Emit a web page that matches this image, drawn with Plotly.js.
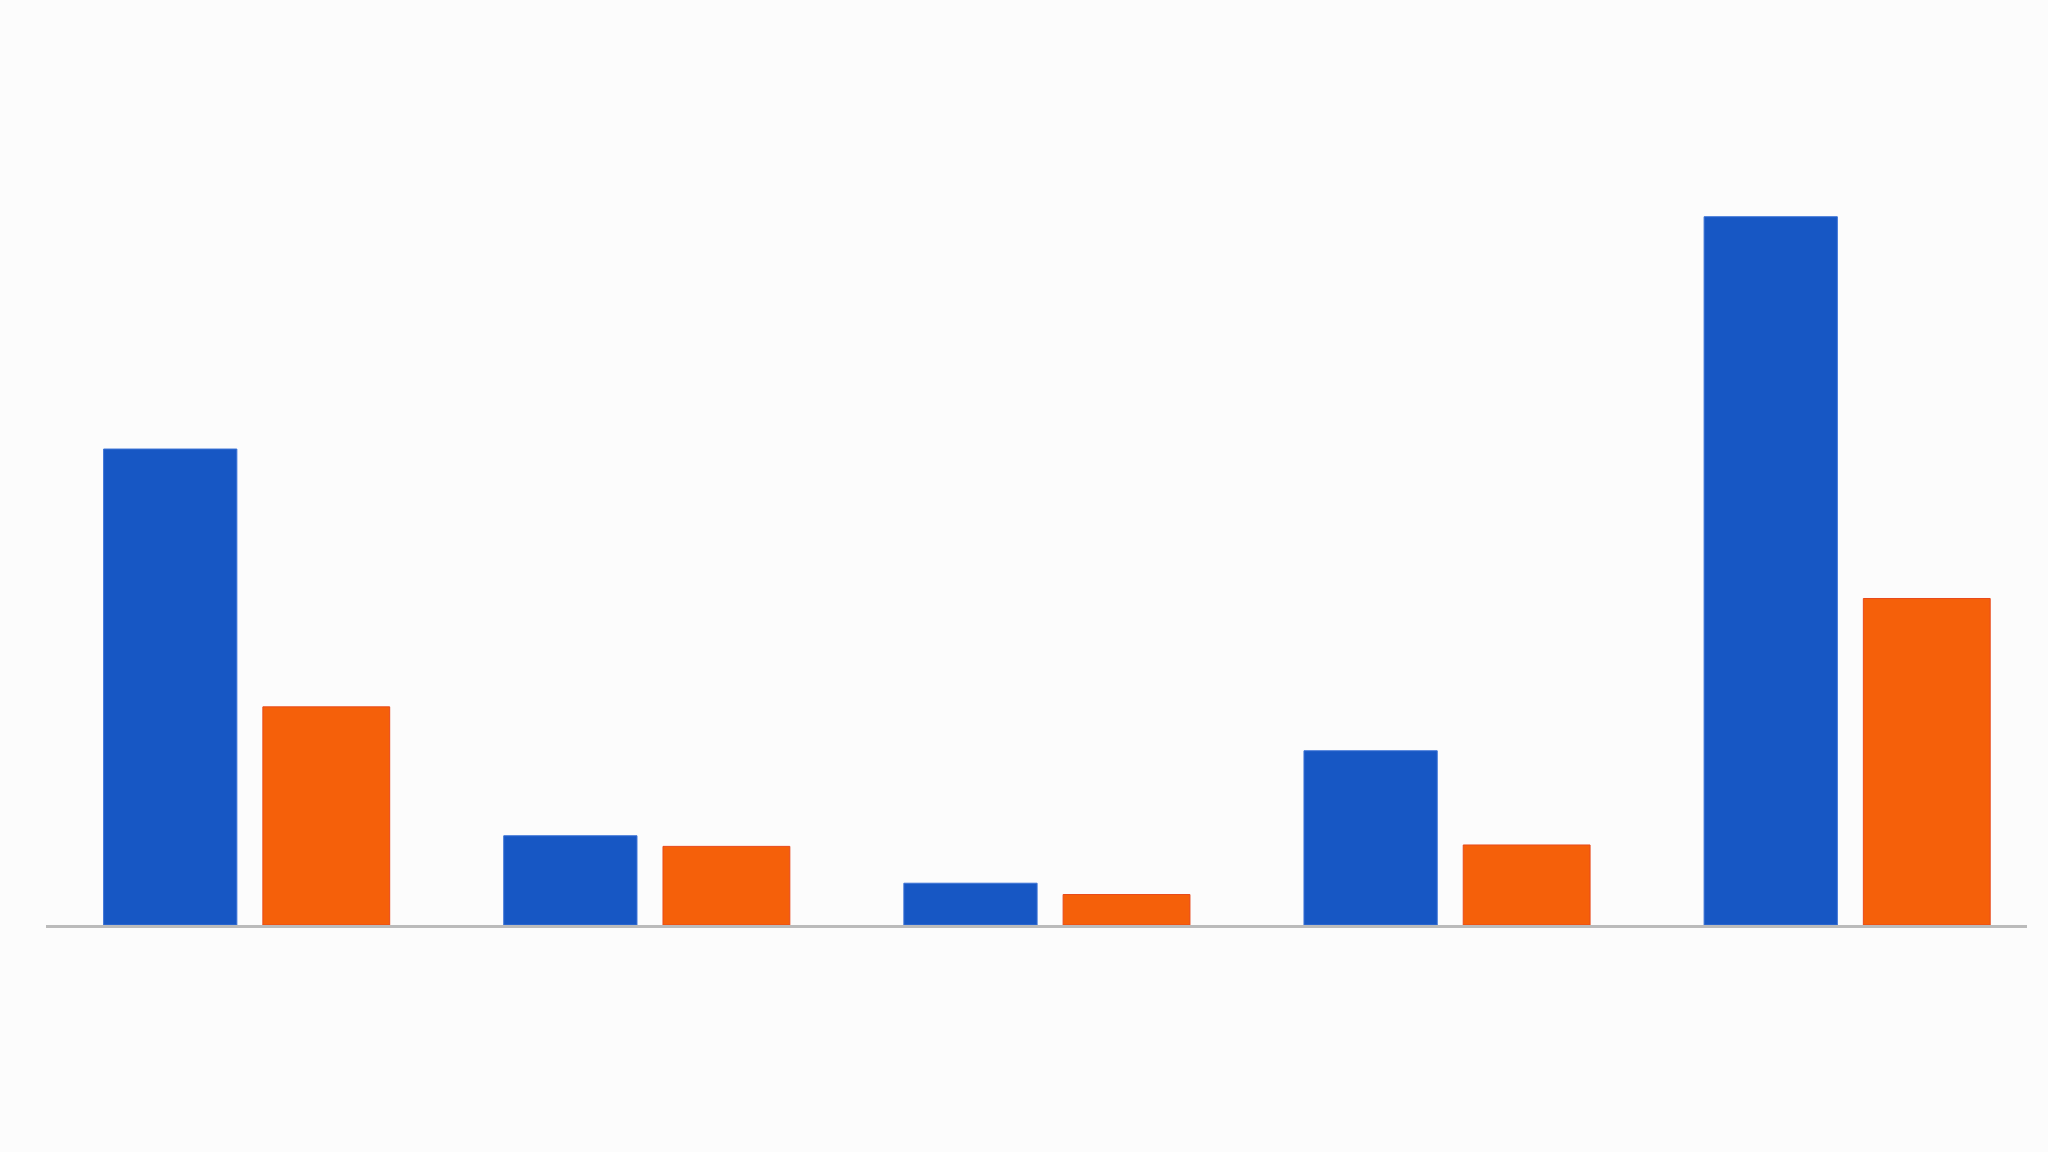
<!DOCTYPE html>
<html>
<head>
<meta charset="utf-8">
<script src="https://cdn.plot.ly/plotly-3.0.1.min.js"></script>
<style>
  html, body { margin: 0; padding: 0; background: #fcfcfc; }
  #mainPlot { width: 2048px; height: 1152px; }
</style>
</head>
<body>
<div id="mainPlot"></div>
<script>
MAINPLOT = document.getElementById('mainPlot');

// no labels are shown in the picture, so these are placeholders
let categories = ['A', 'B', 'C', 'D', 'E'];

let blueValues = [67.2, 12.6, 5.9, 24.6, 100];
let orangeValues = [30.8, 11.1, 4.3, 11.3, 46.1];

var blue = {
    x: categories,
    y: blueValues,
    type: 'bar',
    name: 'Series 1',
    width: 0.333,
    offset: -0.357,
    marker: { color: '#1757c4', line: { color: '#3a72d6', width: 1 } }
};

var orange = {
    x: categories,
    y: orangeValues,
    type: 'bar',
    name: 'Series 2',
    width: 0.317,
    offset: 0.041,
    marker: { color: '#f5600a', line: { color: '#e8481a', width: 1 } }
};

var layout = {
    width: 2048,
    height: 1152,
    margin: { l: 46, r: 21, t: 0, b: 227 },
    paper_bgcolor: '#fcfcfc',
    plot_bgcolor: '#fcfcfc',
    showlegend: false,
    barmode: 'group',
    xaxis: {
        type: 'category',
        range: [-0.501, 4.45],
        showticklabels: false,
        ticks: '',
        showgrid: false,
        zeroline: false,
        showline: true,
        linecolor: '#bbbbbb',
        linewidth: 3
    },
    yaxis: {
        range: [0, 130.6],
        visible: false,
        showgrid: false,
        zeroline: false
    }
};

var data = [blue, orange];

Plotly.newPlot(MAINPLOT, data, layout, { staticPlot: true, displayModeBar: false });
</script>
</body>
</html>
